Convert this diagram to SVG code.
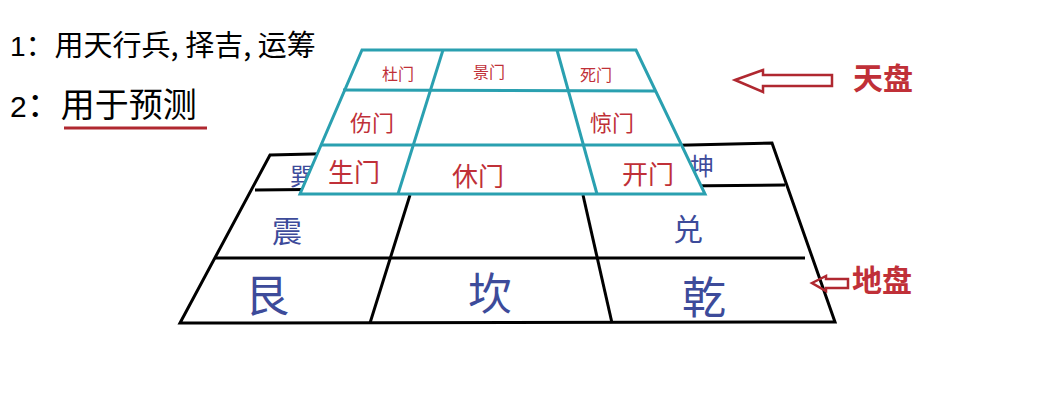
<svg xmlns="http://www.w3.org/2000/svg" width="1038" height="402" viewBox="0 0 1038 402">
<style>
.t{font-family:"Liberation Sans","Noto Sans CJK SC",sans-serif}
.k{font-family:"Noto Sans CJK SC",sans-serif;fill:#3d4b9a}
.r{font-family:"Noto Sans CJK SC",sans-serif;fill:#c03038}
.bl{stroke:#000;stroke-width:3;fill:none}
.tl{stroke:#2aa0b0;stroke-width:3;fill:none}
.ar{stroke:#b02830;stroke-width:2.5;fill:none}
</style>
<rect width="1038" height="402" fill="#fff"/>
<g id="text-notes">
<text class="t" x="10" y="56" font-size="28">1<tspan font-family="Noto Sans CJK SC,sans-serif" font-size="29">：用天行兵, 择吉, 运筹</tspan></text>
<text class="t" x="10" y="117" font-size="30">2<tspan font-family="Noto Sans CJK SC,sans-serif" font-size="34">：用于预测</tspan></text>
<line x1="64" y1="128" x2="207" y2="128" stroke="#b02830" stroke-width="3"/>
</g>
<g id="earth-plate">
<polygon class="bl" points="270,155 772,143 835,322 180,323"/>
<line class="bl" x1="255" y1="190" x2="785" y2="185"/>
<line class="bl" x1="215" y1="258" x2="805" y2="258"/>
<line class="bl" x1="410" y1="195" x2="370" y2="323"/>
<line class="bl" x1="583" y1="195" x2="612" y2="323"/>
<text class="k" x="290" y="185" font-size="24">巽</text>
<text class="k" x="690" y="175" font-size="24">坤</text>
<text class="k" x="272" y="242" font-size="30">震</text>
<text class="k" x="673" y="240" font-size="30">兑</text>
<text class="k" x="245" y="312" font-size="44">艮</text>
<text class="k" x="468" y="310" font-size="44">坎</text>
<text class="k" x="682" y="314" font-size="44">乾</text>
</g>
<g id="heaven-plate">
<polygon points="362,50 636,50 705,194 300,194" fill="#fff"/>
<polygon class="tl" points="362,50 636,50 705,194 300,194"/>
<line class="tl" x1="343" y1="90" x2="655" y2="91"/>
<line class="tl" x1="321" y1="145" x2="680" y2="145"/>
<line class="tl" x1="443" y1="50" x2="398" y2="194"/>
<line class="tl" x1="557" y1="50" x2="597" y2="194"/>
<text class="r" x="382" y="80" font-size="16">杜门</text>
<text class="r" x="473" y="78" font-size="16">景门</text>
<text class="r" x="580" y="81" font-size="16">死门</text>
<text class="r" x="350" y="131" font-size="22">伤门</text>
<text class="r" x="590" y="131" font-size="22">惊门</text>
<text class="r" x="328" y="182" font-size="26">生门</text>
<text class="r" x="452" y="186" font-size="26">休门</text>
<text class="r" x="622" y="184" font-size="26">开门</text>
</g>
<g id="connectors">
<polygon class="ar" points="735,80 763,70 763,75 832,75 832,86 763,86 763,92"/>
<polygon class="ar" points="812,283 826,276 826,279 848,279 848,288 826,288 826,291"/>
</g>
<g id="labels">
<text class="r" x="853" y="89" font-size="30" font-weight="bold">天盘</text>
<text class="r" x="852" y="291" font-size="30" font-weight="bold">地盘</text>
</g>
</svg>
